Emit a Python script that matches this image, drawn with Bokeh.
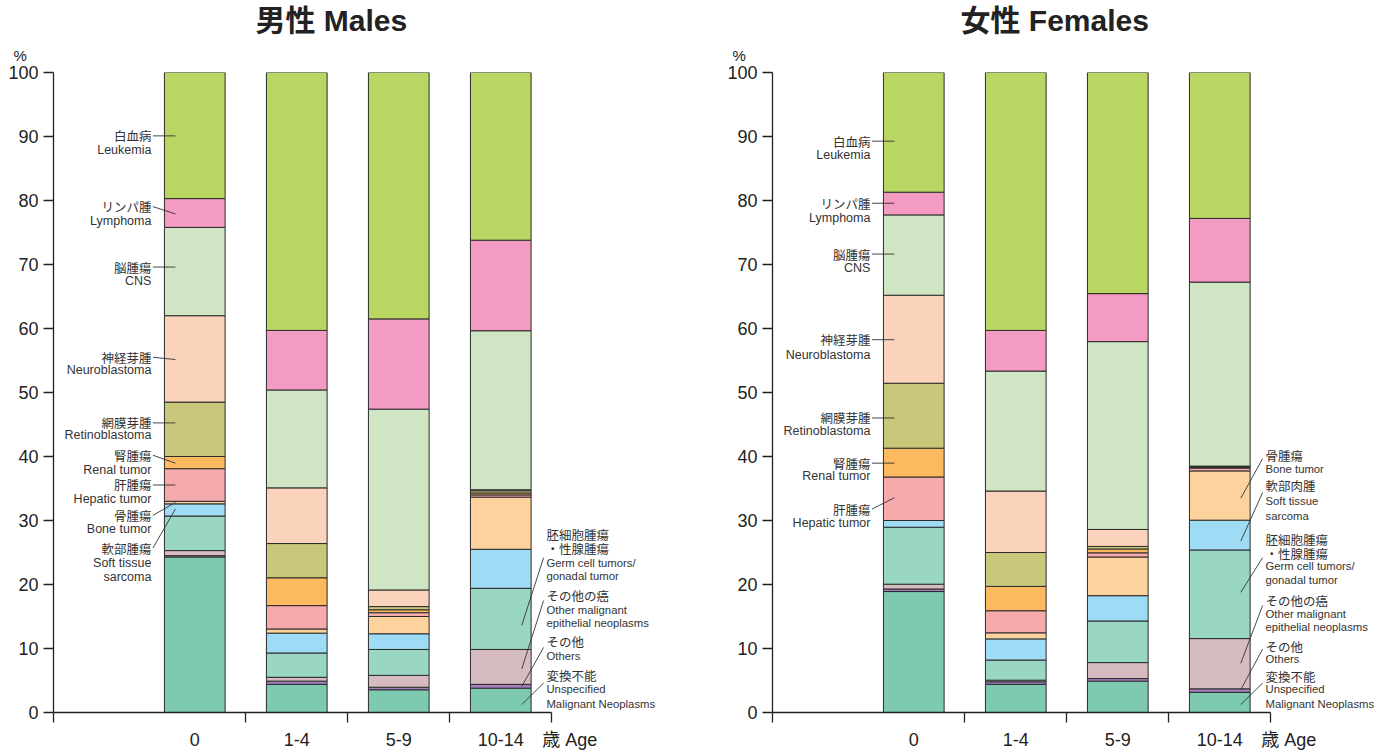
from bokeh.plotting import figure
from bokeh.models import ColumnDataSource, Range1d, FixedTicker, Title
from bokeh.layouts import row
from bokeh.embed import file_html
from bokeh.resources import INLINE
from bokeh.core.properties import value

# ---------------- data ----------------
ages = ["0", "1-4", "5-9", "10-14"]
age_axis_title = "歳 Age"

# stacking order: bottom -> top
categories = ["unspecified", "others", "other_epithelial", "germ_cell", "soft_tissue",
              "bone", "hepatic", "renal", "retinoblastoma", "neuroblastoma",
              "cns", "lymphoma", "leukemia"]

colors = ["#7ecab0", "#a47fc0", "#d6bcc1", "#9ad6c4", "#9edbf5",
          "#fdd29d", "#f6aaac", "#fcb960", "#c8c77a", "#fbd2bb",
          "#cfe5c4", "#f39bc2", "#b9d662"]

# Males (% by age group 0, 1-4, 5-9, 10-14)
male_unspecified = [24.3, 4.4, 3.55, 3.8]
male_others = [0.2, 0.5, 0.4, 0.6]
male_other_epithelial = [0.8, 0.6, 1.85, 5.45]
male_germ_cell = [5.4, 3.8, 4.05, 9.55]
male_soft_tissue = [1.9, 3.1, 2.45, 6.1]
male_bone = [0.4, 0.65, 2.7, 8.15]
male_hepatic = [5.1, 3.65, 0.6, 0.35]
male_renal = [1.9, 4.35, 0.45, 0.3]
male_retinoblastoma = [8.5, 5.35, 0.5, 0.35]
male_neuroblastoma = [13.5, 8.7, 2.6, 0.15]
male_cns = [13.8, 15.3, 28.25, 24.85]
male_lymphoma = [4.5, 9.3, 14.1, 14.15]
male_leukemia = [19.7, 40.3, 38.5, 26.2]

# Females
female_unspecified = [18.9, 4.4, 4.9, 3.15]
female_others = [0.4, 0.4, 0.4, 0.55]
female_other_epithelial = [0.75, 0.25, 2.5, 7.85]
female_germ_cell = [8.9, 3.15, 6.5, 13.85]
female_soft_tissue = [1.05, 3.3, 3.95, 4.65]
female_bone = [0.0, 0.95, 6.05, 7.7]
female_hepatic = [6.8, 3.45, 0.65, 0.45]
female_renal = [4.5, 3.8, 0.6, 0.1]
female_retinoblastoma = [10.15, 5.3, 0.4, 0.1]
female_neuroblastoma = [13.75, 9.6, 2.65, 0.1]
female_cns = [12.55, 18.75, 29.35, 28.75]
female_lymphoma = [3.55, 6.35, 7.5, 9.95]
female_leukemia = [18.7, 40.3, 34.55, 22.8]

male_series = [male_unspecified, male_others, male_other_epithelial, male_germ_cell,
               male_soft_tissue, male_bone, male_hepatic, male_renal,
               male_retinoblastoma, male_neuroblastoma, male_cns, male_lymphoma,
               male_leukemia]
female_series = [female_unspecified, female_others, female_other_epithelial,
                 female_germ_cell, female_soft_tissue, female_bone, female_hepatic,
                 female_renal, female_retinoblastoma, female_neuroblastoma,
                 female_cns, female_lymphoma, female_leukemia]

# ---------------- annotation layout ----------------
# (lines, y of each line, leader (y_start, y_end))
male_left_notes = [
    (["白血病", "Leukemia"], [90.1, 87.9], (90.1, 90.1)),
    (["リンパ腫", "Lymphoma"], [79.05, 76.8], (79.05, 77.9)),
    (["脳腫瘍", "CNS"], [69.6, 67.4], (69.6, 69.6)),
    (["神経芽腫", "Neuroblastoma"], [55.5, 53.45], (55.5, 55.15)),
    (["網膜芽腫", "Retinoblastoma"], [45.25, 43.3], (45.25, 45.25)),
    (["腎腫瘍", "Renal tumor"], [40.2, 37.95], (40.2, 38.96)),
    (["肝腫瘍", "Hepatic tumor"], [35.55, 33.33], (35.55, 35.55)),
    (["骨腫瘍", "Bone tumor"], [30.8, 28.68], (30.8, 32.82)),
    (["軟部腫瘍", "Soft tissue", "sarcoma"], [25.7, 23.4, 21.25], (25.7, 31.78)),
]
male_right_notes = [
    (["胚細胞腫瘍", "・性腺腫瘍", "Germ cell tumors/", "gonadal tumor"],
     [27.82, 25.59, 23.42, 21.36], (24.2, 13.62)),
    (["その他の癌", "Other malignant", "epithelial neoplasms"],
     [18.27, 15.94, 13.98], (17.49, 6.81)),
    (["その他", "Others"], [11.04, 8.87], (10.17, 4.07)),
    (["変換不能", "Unspecified", "Malignant Neoplasms"], [5.77, 3.67, 1.39], (4.6, 1.24)),
]
female_left_notes = [
    (["白血病", "Leukemia"], [89.27, 87.04], (89.27, 89.27)),
    (["リンパ腫", "Lymphoma"], [79.57, 77.29], (79.57, 79.57)),
    (["脳腫瘍", "CNS"], [71.63, 69.46], (71.63, 71.63)),
    (["神経芽腫", "Neuroblastoma"], [58.25, 55.93], (58.25, 58.25)),
    (["網膜芽腫", "Retinoblastoma"], [46.02, 43.92], (46.02, 46.02)),
    (["腎腫瘍", "Renal tumor"], [38.96, 36.89], (38.96, 38.96)),
    (["肝腫瘍", "Hepatic tumor"], [31.78, 29.61], (31.78, 33.55)),
]
female_right_notes = [
    (["骨腫瘍", "Bone tumor"], [40.2, 37.97], (39.67, 33.48)),
    (["軟部肉腫", "Soft tissue", "sarcoma"], [35.45, 33.02, 30.65], (34.37, 26.78)),
    (["胚細胞腫瘍", "・性腺腫瘍", "Germ cell tumors/", "gonadal tumor"],
     [27.09, 24.88, 22.91, 20.74], (24.2, 18.78)),
    (["その他の癌", "Other malignant", "epithelial neoplasms"],
     [17.49, 15.43, 13.36], (16.72, 7.69)),
    (["その他", "Others"], [10.26, 8.31], (9.91, 3.56)),
    (["変換不能", "Unspecified", "Malignant Neoplasms"], [5.62, 3.72, 1.39], (4.6, 1.24)),
]

JP = "Noto Sans CJK JP"
EN = "Liberation Sans"
MIX = "Liberation Sans, Noto Sans CJK JP"
TXT = "#333333"
AX = "#222222"


def is_cjk(s):
    return any(ord(c) > 0x2000 for c in s)


def add_notes(p, notes, x_text, align, x_lead0, x_lead1, en_size):
    for lines, ys, (ly0, ly1) in notes:
        for t, y in zip(lines, ys):
            cjk = is_cjk(t)
            p.text(x=[x_text], y=[y], text=[t],
                   text_font=value(JP if cjk else EN),
                   text_font_size=value("12.5px" if cjk else en_size),
                   text_color=TXT, text_align=align, text_baseline="middle")
        p.segment(x0=[x_lead0], y0=[ly0], x1=[x_lead1], y1=[ly1],
                  line_color="#333333", line_width=0.9)


def panel(title, title_offset, series, left_notes, right_notes, width, x_end, min_right):
    p = figure(width=width, height=752,
               x_range=Range1d(-1.385, x_end), y_range=Range1d(0, 100),
               output_backend="svg", toolbar_location=None,
               min_border_left=53, min_border_right=min_right,
               min_border_top=72, min_border_bottom=34)
    p.outline_line_color = None
    p.xgrid.visible = False
    p.ygrid.visible = False
    p.background_fill_color = "white"

    data = {"x": list(range(len(ages)))}
    for c, s in zip(categories, series):
        data[c] = s
    src = ColumnDataSource(data)
    p.vbar_stack(categories, x="x", width=0.595, source=src, color=colors,
                 line_color="#2b2b2b", line_width=1)

    # y axis
    ya = p.yaxis[0]
    ya.ticker = FixedTicker(ticks=list(range(0, 101, 10)))
    ya.bounds = (0, 100)
    ya.major_tick_out = 10
    ya.major_tick_in = 0
    ya.minor_tick_out = 0
    ya.minor_tick_in = 0
    ya.major_label_standoff = 5
    ya.major_label_text_font = EN
    ya.major_label_text_font_size = "18px"
    ya.major_label_text_color = AX
    ya.axis_line_color = AX
    ya.axis_line_width = 1.3
    ya.major_tick_line_color = AX
    ya.major_tick_line_width = 1.3

    # x axis: labels at bar centres, separators as minor ticks,
    # axis title as the label of the axis end
    xa = p.xaxis[0]
    xa.ticker = FixedTicker(ticks=[0, 1, 2, 3, 3.5],
                            minor_ticks=[-1.385, 0.5, 1.5, 2.5, 3.5])
    xa.bounds = (-1.385, 3.5)
    overrides = {i: a for i, a in enumerate(ages)}
    overrides[3.5] = "\u3000\u3000" + age_axis_title
    xa.major_label_overrides = overrides
    xa.major_tick_out = 0
    xa.major_tick_in = 0
    xa.minor_tick_out = 10
    xa.minor_tick_in = 0
    xa.minor_tick_line_color = AX
    xa.minor_tick_line_width = 1.3
    xa.major_label_standoff = 7
    xa.major_label_text_font = MIX
    xa.major_label_text_font_size = "18px"
    xa.major_label_text_color = AX
    xa.axis_line_color = AX
    xa.axis_line_width = 1.3

    add_notes(p, left_notes, -0.425, "right", -0.41, -0.19, "12.5px")
    add_notes(p, right_notes, 3.448, "left", 3.42, 3.206, "11.3px")

    p.add_layout(Title(text="%", align="left", offset=-40, text_font=EN,
                       text_font_size="15px", text_font_style="normal",
                       text_color=AX, standoff=17), "above")
    p.add_layout(Title(text=title, align="left", offset=title_offset, text_font=MIX,
                       text_font_size="30px", text_font_style="bold",
                       text_color=AX, standoff=0), "above")
    return p


p1 = panel("男性 Males", 202, male_series, male_left_notes, male_right_notes,
           719, 5.066, 8)
p2 = panel("女性 Females", 188, female_series, female_left_notes, female_right_notes,
           659, 4.556, 0)

layout = row(p1, p2)
open("out.html", "w").write(file_html(layout, INLINE))
